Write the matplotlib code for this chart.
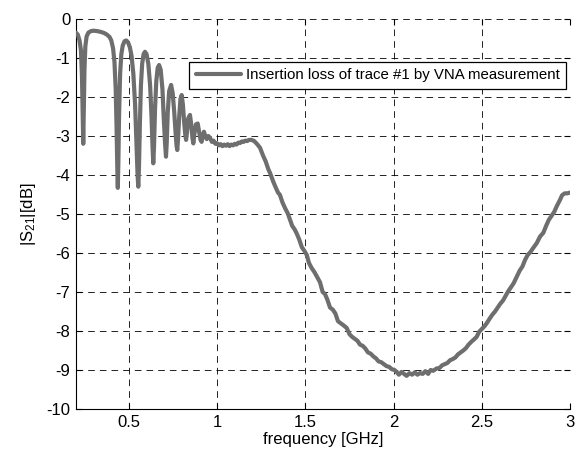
import matplotlib
matplotlib.use("Agg")
import matplotlib.pyplot as plt

plt.rcParams['font.family'] = ['Liberation Sans', 'DejaVu Sans']
plt.rcParams['mathtext.fontset'] = 'custom'
plt.rcParams['mathtext.rm'] = 'Liberation Sans'
plt.rcParams['mathtext.it'] = 'Liberation Sans'

freq = [0.200, 0.210, 0.220, 0.228, 0.234, 0.238, 0.241, 0.244, 0.248, 0.253,
        0.260, 0.270, 0.285, 0.300, 0.320, 0.340, 0.360, 0.375, 0.390, 0.400,
        0.410, 0.418, 0.425, 0.430, 0.434, 0.437, 0.440, 0.444, 0.450, 0.457,
        0.465, 0.475, 0.485, 0.495, 0.505, 0.515, 0.525, 0.535, 0.543, 0.549,
        0.553, 0.557, 0.562, 0.568, 0.575, 0.583, 0.591, 0.600, 0.610, 0.620,
        0.628, 0.634, 0.638, 0.642, 0.648, 0.655, 0.663, 0.671, 0.680, 0.690,
        0.698, 0.705, 0.710, 0.714, 0.720, 0.728, 0.739, 0.748, 0.757, 0.765,
        0.770, 0.774, 0.778, 0.785, 0.792, 0.799, 0.806, 0.813, 0.819, 0.824,
        0.829, 0.836, 0.846, 0.853, 0.860, 0.865, 0.871, 0.880, 0.890, 0.898,
        0.906, 0.912, 0.918, 0.925, 0.933, 0.941, 0.950, 0.960, 0.970, 0.980,
        0.990, 1.000, 1.010, 1.020, 1.030, 1.040, 1.050, 1.060, 1.070, 1.080,
        1.090, 1.100, 1.110, 1.120, 1.130, 1.140, 1.150, 1.160, 1.170, 1.180,
        1.195, 1.210, 1.225, 1.243, 1.260, 1.275, 1.290, 1.300, 1.318, 1.330,
        1.345, 1.356, 1.370, 1.385, 1.400, 1.413, 1.425, 1.440, 1.451, 1.465,
        1.480, 1.495, 1.508, 1.520, 1.535, 1.550, 1.565, 1.583, 1.598, 1.611,
        1.625, 1.640, 1.655, 1.670, 1.685, 1.700, 1.715, 1.734, 1.750, 1.765,
        1.780, 1.795, 1.810, 1.825, 1.840, 1.855, 1.870, 1.885, 1.900, 1.915,
        1.930, 1.945, 1.960, 1.975, 1.990, 2.005, 2.017, 2.030, 2.045, 2.060,
        2.074, 2.090, 2.105, 2.120, 2.135, 2.150, 2.165, 2.180, 2.196, 2.210,
        2.225, 2.244, 2.260, 2.275, 2.290, 2.305, 2.320, 2.335, 2.350, 2.365,
        2.380, 2.395, 2.410, 2.425, 2.440, 2.455, 2.471, 2.485, 2.500, 2.515,
        2.528, 2.545, 2.560, 2.575, 2.590, 2.605, 2.620, 2.635, 2.650, 2.665,
        2.680, 2.698, 2.715, 2.730, 2.745, 2.760, 2.775, 2.790, 2.811, 2.830,
        2.849, 2.865, 2.880, 2.895, 2.910, 2.925, 2.943, 2.955, 2.970, 2.985,
        3.000]

s21_db = [-0.35, -0.40, -0.55, -0.80, -1.50, -2.50, -3.20, -2.40, -1.30, -0.70,
          -0.45, -0.35, -0.31, -0.30, -0.31, -0.33, -0.36, -0.40, -0.46, -0.55,
          -0.75, -1.10, -1.80, -2.80, -3.80, -4.33, -3.70, -2.50, -1.40, -0.90,
          -0.68, -0.57, -0.55, -0.60, -0.72, -0.95, -1.40, -2.20, -3.20, -4.00,
          -4.30, -3.80, -2.70, -1.70, -1.15, -0.90, -0.84, -0.90, -1.15, -1.70,
          -2.50, -3.30, -3.70, -3.30, -2.30, -1.60, -1.25, -1.18, -1.30, -1.80,
          -2.60, -3.20, -3.53, -3.20, -2.40, -1.85, -1.69, -1.90, -2.40, -2.95,
          -3.25, -3.36, -3.10, -2.50, -2.05, -1.95, -2.20, -2.65, -2.95, -3.10,
          -2.90, -2.55, -2.46, -2.70, -3.05, -3.19, -2.95, -2.70, -2.68, -2.90,
          -3.10, -3.15, -3.00, -2.89, -3.00, -3.08, -3.00, -3.05, -3.15, -3.12,
          -3.20, -3.19, -3.24, -3.21, -3.26, -3.22, -3.25, -3.21, -3.26, -3.22,
          -3.24, -3.20, -3.22, -3.17, -3.18, -3.14, -3.15, -3.12, -3.13, -3.10,
          -3.10, -3.13, -3.20, -3.30, -3.50, -3.65, -3.85, -3.95, -4.17, -4.30,
          -4.45, -4.51, -4.70, -4.85, -4.98, -5.15, -5.30, -5.40, -5.50, -5.65,
          -5.85, -5.95, -6.05, -6.25, -6.38, -6.48, -6.60, -6.75, -7.00, -7.05,
          -7.20, -7.40, -7.45, -7.55, -7.75, -7.80, -7.85, -7.92, -8.08, -8.15,
          -8.20, -8.25, -8.35, -8.38, -8.45, -8.55, -8.58, -8.65, -8.70, -8.78,
          -8.80, -8.85, -8.90, -8.92, -8.98, -9.00, -9.05, -9.12, -9.05, -9.10,
          -9.15, -9.08, -9.12, -9.06, -9.12, -9.08, -9.10, -9.03, -9.10, -9.00,
          -9.02, -8.96, -8.95, -8.88, -8.85, -8.82, -8.75, -8.72, -8.68, -8.60,
          -8.55, -8.50, -8.44, -8.35, -8.28, -8.22, -8.15, -8.02, -7.95, -7.88,
          -7.80, -7.68, -7.58, -7.50, -7.40, -7.30, -7.22, -7.10, -6.98, -6.88,
          -6.78, -6.61, -6.45, -6.35, -6.18, -6.05, -5.98, -5.88, -5.75, -5.58,
          -5.48, -5.30, -5.15, -5.05, -4.95, -4.80, -4.64, -4.52, -4.47, -4.47,
          -4.45]

x_ticks = [0.5, 1, 1.5, 2, 2.5, 3]
x_tick_labels = ['0.5', '1', '1.5', '2', '2.5', '3']
y_ticks = [0, -1, -2, -3, -4, -5, -6, -7, -8, -9, -10]
y_tick_labels = ['0', '-1', '-2', '-3', '-4', '-5', '-6', '-7', '-8', '-9', '-10']
legend_label = 'Insertion loss of trace #1 by VNA measurement'

fig = plt.figure(figsize=(5.78, 4.53), dpi=100)
ax = fig.add_axes([76/578, 44/453, (570-76)/578, (409-19)/453])

ax.plot(freq, s21_db, color='#6e6e6e', linewidth=3.0, label=legend_label,
        solid_joinstyle='round', solid_capstyle='round', zorder=3)

ax.set_xlim(0.2, 3)
ax.set_ylim(-10, 0)
ax.set_xticks(x_ticks)
ax.set_xticklabels(x_tick_labels)
ax.set_yticks(y_ticks)
ax.set_yticklabels(y_tick_labels)

ax.grid(True, color='black', linestyle=(0, (8, 6)), linewidth=0.6)
for s in ['top', 'right']:
    ax.spines[s].set_visible(False)
for s in ['left', 'bottom']:
    ax.spines[s].set_linewidth(0.8)
ax.tick_params(direction='in', length=4, width=0.8, labelsize=12,
               top=True, right=True, pad=4)

ax.set_xlabel('frequency [GHz]', fontsize=12, labelpad=2)
ax.set_ylabel('|S$_{21}$|[dB]', fontsize=12, labelpad=6)

leg = ax.legend(loc='upper right', bbox_to_anchor=(0.992, 0.890), fontsize=10.8,
                fancybox=False, framealpha=1, edgecolor='black',
                handlelength=3.0, borderpad=0.42, handletextpad=0.35,
                borderaxespad=0)
leg.get_frame().set_linewidth(0.9)

fig.savefig('out.png', dpi=100)
